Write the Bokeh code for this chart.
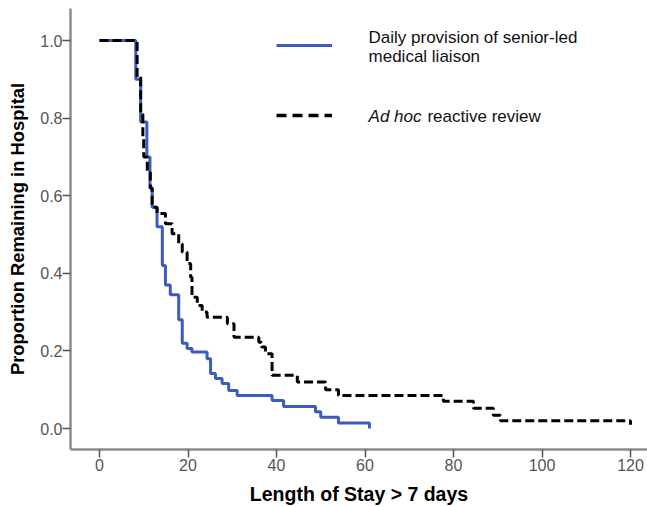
from bokeh.plotting import figure
from bokeh.models import (FixedTicker, NumeralTickFormatter, Range1d, Label,
                          Legend, LegendItem)
from bokeh.embed import file_html
from bokeh.resources import INLINE

# ---- data ----
daily_days = [0, 8.2, 9.3, 10.7, 11.4, 11.9, 13.0, 14.2, 14.9, 16.0, 17.9,
              18.7, 19.8, 20.9, 24.3, 25.1, 26.2, 27.7, 29.2, 31.1, 39.0,
              41.6, 48.8, 50.0, 54.0, 61.0]
daily_surv = [1.0, 0.90, 0.79, 0.70, 0.62, 0.57, 0.52, 0.42, 0.37, 0.345, 0.28,
              0.22, 0.206, 0.197, 0.18, 0.142, 0.129, 0.116, 0.098, 0.085, 0.072,
              0.057, 0.043, 0.029, 0.014, 0.0]

adhoc_days = [0, 8.5, 9.3, 9.8, 10.0, 10.8, 11.5, 11.9, 13.0, 14.9, 16.4,
              17.9, 18.7, 19.8, 20.6, 20.9, 22.1, 23.2, 24.3, 28.9, 30.4,
              36.0, 36.6, 37.5, 39.0, 44.7, 51.1, 54.0, 77.7, 84.5, 89.0,
              90.6, 120.0]
adhoc_surv = [1.0, 0.905, 0.81, 0.75, 0.70, 0.66, 0.62, 0.57, 0.554, 0.528, 0.502,
              0.476, 0.454, 0.425, 0.39, 0.338, 0.317, 0.30, 0.287, 0.27, 0.235,
              0.222, 0.21, 0.193, 0.137, 0.12, 0.10, 0.085, 0.07, 0.052, 0.034,
              0.02, 0.01]

x_ticks = [0, 20, 40, 60, 80, 100, 120]
y_ticks = [0.0, 0.2, 0.4, 0.6, 0.8, 1.0]

label_daily = ["Daily provision of senior-led", "medical liaison"]
label_adhoc_italic = "Ad hoc"
label_adhoc_rest = "reactive review"

BLUE = "#3b5bbf"
TICK_FONT = "Liberation Sans"

p = figure(width=647, height=507, output_backend="svg", toolbar_location=None,
           x_range=Range1d(-6.554, 123.84), y_range=Range1d(-0.0541, 1.0825),
           min_border_left=70, min_border_right=0, min_border_top=8,
           min_border_bottom=58)
p.outline_line_color = None
p.grid.visible = False
p.background_fill_color = "white"

r_daily = p.step(daily_days, daily_surv, mode="after", line_color=BLUE,
                 line_width=3)
r_adhoc = p.step(adhoc_days, adhoc_surv, mode="after", line_color="black",
                 line_width=3, line_dash="9 4")

# legend key glyphs: single-point lines (draw nothing on the plot) that
# only carry the key styles
key_daily = p.line(daily_days[:1], daily_surv[:1], line_color=BLUE,
                   line_width=3)
key_adhoc = p.line(adhoc_days[:1], adhoc_surv[:1], line_color="black",
                   line_width=3.5, line_dash="10 6")

for ax in (p.xaxis[0], p.yaxis[0]):
    ax.axis_line_color = "#8c8c8c"
    ax.axis_line_width = 2.5
    ax.major_tick_line_color = "#555555"
    ax.major_tick_line_width = 1.5
    ax.major_tick_out = 8
    ax.major_tick_in = 0
    ax.minor_tick_line_color = None
    ax.major_label_text_font = TICK_FONT
    ax.major_label_text_font_size = "16px"
    ax.major_label_text_color = "#555555"
    ax.axis_label_text_font = "Liberation Sans"
    ax.axis_label_text_font_style = "bold"
    ax.axis_label_text_color = "black"

p.xaxis.axis_label_text_font_size = "19.5px"
p.yaxis.axis_label_text_font_size = "18.4px"
p.xaxis.ticker = FixedTicker(ticks=x_ticks)
p.yaxis.ticker = FixedTicker(ticks=y_ticks)
p.yaxis.formatter = NumeralTickFormatter(format="0.0")
p.xaxis.axis_label = "Length of Stay > 7 days"
p.yaxis.axis_label = "Proportion Remaining in Hospital"
p.xaxis.major_label_standoff = 1
p.xaxis.axis_label_standoff = 9
p.yaxis.major_label_standoff = 0
p.yaxis.axis_label_standoff = 9

legend = Legend(items=[LegendItem(label=" ", renderers=[key_daily]),
                       LegendItem(label=" ", renderers=[key_adhoc])],
                location=(206, 324), glyph_width=56, glyph_height=20,
                label_height=20, label_width=1, label_standoff=0,
                spacing=50, padding=0, margin=0,
                border_line_color=None, background_fill_alpha=0,
                label_text_font_size="2px")
p.add_layout(legend, "center")

font = "Liberation Sans"
p.add_layout(Label(x=60.8, y=1.0077, text=label_daily[0], text_font=font,
                   text_font_size="17px", text_baseline="middle",
                   text_color="#111111"))
p.add_layout(Label(x=60.8, y=0.9588, text=label_daily[1], text_font=font,
                   text_font_size="17px", text_baseline="middle",
                   text_color="#111111"))
p.add_layout(Label(x=60.8, y=0.804, text=label_adhoc_italic, text_font=font,
                   text_font_size="17px", text_font_style="italic",
                   text_baseline="middle", text_color="#111111"))
p.add_layout(Label(x=74.1, y=0.804, text=label_adhoc_rest, text_font=font,
                   text_font_size="17px", text_baseline="middle",
                   text_color="#111111"))

open("out.html", "w").write(file_html(p, INLINE))
